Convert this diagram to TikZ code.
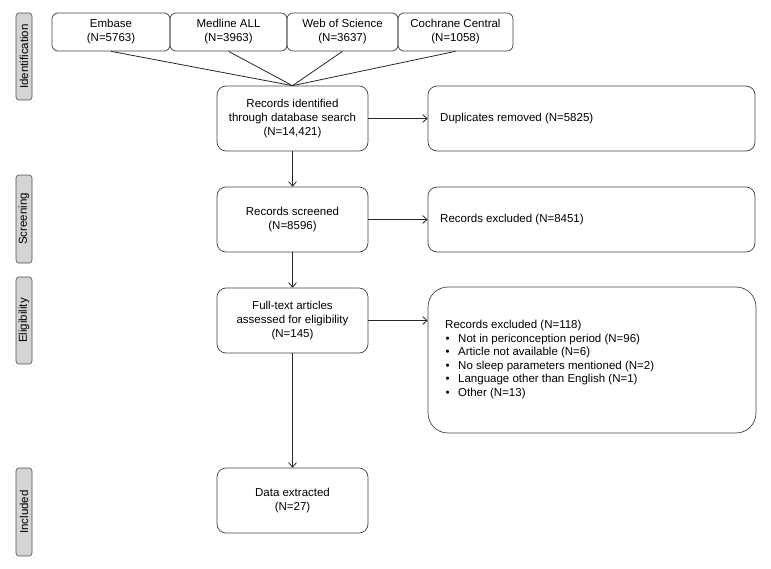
\documentclass[tikz,border=0pt]{standalone}
\usepackage{fontspec}
\setmainfont{Liberation Sans}
\usetikzlibrary{arrows.meta}
\begin{document}
\begin{tikzpicture}[x=1pt,y=-1pt,
  box/.style={draw=black!75,line width=0.7pt,rounded corners=9pt,align=center,inner sep=0pt,
    font=\fontsize{11.5}{14}\selectfont},
  topbox/.style={box,rounded corners=6pt,minimum height=38pt},
  sidebox/.style={draw=black!70,fill=black!17,line width=0.6pt,rounded corners=3pt,rotate=90,
    minimum height=16pt,inner sep=0pt,font=\fontsize{11.5}{14}\selectfont},
  boxtext/.style={anchor=west,inner sep=0pt,align=left,font=\fontsize{11.5}{13.6}\selectfont},
  conn/.style={draw=black!85,line width=0.8pt},
  arr/.style={conn,-{Straight Barb[length=4.5pt,width=8pt,line width=0.8pt]}}
]
\useasboundingbox (0,0) rectangle (771,568);
% side labels
\node[sidebox,minimum width=87pt] (sid) at (24,56.5) {Identification};
\node[sidebox,minimum width=88pt] (sscr) at (24,219) {Screening};
\node[sidebox,minimum width=87pt] (selig) at (24,320.5) {Eligibility};
\node[sidebox,minimum width=88pt] (sinc) at (24,512) {Included};
% top boxes
\node[topbox,minimum width=118pt] (emb) at (111,32) {Embase\\(N=5763)};
\node[topbox,minimum width=117pt] (med) at (228.5,32) {Medline ALL\\(N=3963)};
\node[topbox,minimum width=111pt] (wos) at (342.5,32) {Web of Science\\(N=3637)};
\node[topbox,minimum width=115pt] (coc) at (455.5,32) {Cochrane Central\\(N=1058)};
% main column
\node[box,minimum width=151pt,minimum height=65pt] (rid) at (292.5,118.5) {Records identified\\through database search\\(N=14,421)};
\node[box,minimum width=151pt,minimum height=65pt] (scr) at (292.5,219.5) {Records screened\\(N=8596)};
\node[box,minimum width=151pt,minimum height=65pt] (elig) at (292.5,320.5) {Full-text articles\\assessed for eligibility\\(N=145)};
\node[box,minimum width=151pt,minimum height=65pt] (dat) at (292.5,500.5) {Data extracted\\(N=27)};
% right column
\node[box,minimum width=327pt,minimum height=65pt] (dup) at (591.5,118.5) {};
\node[boxtext] (duptxt) at (440,118.5) {Duplicates removed (N=5825)};
\node[box,minimum width=327pt,minimum height=65pt] (exc1) at (591.5,219.5) {};
\node[boxtext] (exc1txt) at (440,219.5) {Records excluded (N=8451)};
\node[box,rounded corners=20pt,minimum width=328pt,minimum height=146pt] (exc2) at (592,360) {};
\node[boxtext] (exc2txt) at (445,359.5) {Records excluded (N=118)\\
\hspace*{13pt}\llap{•\hspace{8.5pt}}Not in periconception period (N=96)\\
\hspace*{13pt}\llap{•\hspace{8.5pt}}Article not available (N=6)\\
\hspace*{13pt}\llap{•\hspace{8.5pt}}No sleep parameters mentioned (N=2)\\
\hspace*{13pt}\llap{•\hspace{8.5pt}}Language other than English (N=1)\\
\hspace*{13pt}\llap{•\hspace{8.5pt}}Other (N=13)};
% connectors
\coordinate (conv) at (rid.north);
\draw[conn] (emb.south) -- (conv);
\draw[conn] (med.south) -- (conv);
\draw[conn] (wos.south) -- (conv);
\draw[conn] (coc.south) -- (conv);
\draw[arr] (rid.east) -- (dup.west);
\draw[arr] (scr.east) -- (exc1.west);
\draw[arr] (elig.east) -- (elig.east -| exc2.west);
\draw[arr] (rid.south) -- (scr.north);
\draw[arr] (scr.south) -- (elig.north);
\draw[arr] (elig.south) -- (dat.north);
\end{tikzpicture}
\end{document}
